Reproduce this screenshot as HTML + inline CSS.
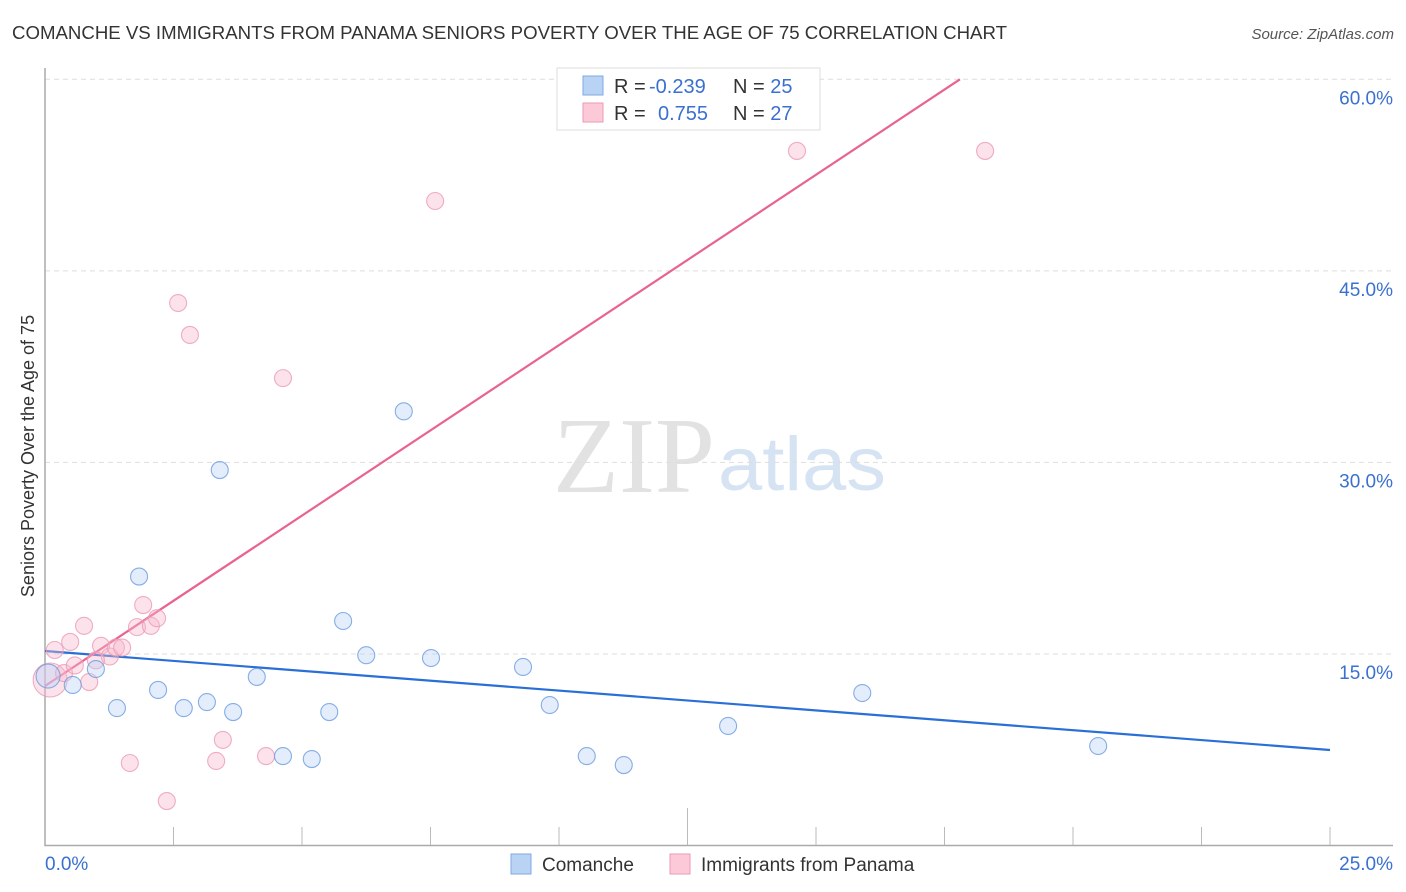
<!DOCTYPE html>
<html><head><meta charset="utf-8"><style>
body{margin:0;background:#fff;font-family:"Liberation Sans",sans-serif;}
svg{display:block}
</style></head><body>
<svg id="chart" width="1406" height="892" xmlns="http://www.w3.org/2000/svg">
<text x="12" y="39" font-size="18" fill="#333" textLength="995" lengthAdjust="spacingAndGlyphs">COMANCHE VS IMMIGRANTS FROM PANAMA SENIORS POVERTY OVER THE AGE OF 75 CORRELATION CHART</text>
<text x="1394" y="39" font-size="15" fill="#555" font-style="italic" text-anchor="end">Source: ZipAtlas.com</text>
<g>
<text x="553" y="492" font-size="108" fill="#e2e2e2" font-family="Liberation Serif,serif" textLength="162" lengthAdjust="spacingAndGlyphs">ZIP</text>
<text x="718" y="490" font-size="76" fill="#d6e3f3" textLength="168" lengthAdjust="spacingAndGlyphs">atlas</text>
</g>
<g id="grid"></g>
<g id="axes"></g>
<g id="trend"></g>
<g id="pts"></g>
<text transform="translate(34,456) rotate(-90)" font-size="18" fill="#333" text-anchor="middle">Seniors Poverty Over the Age of 75</text>
<g>
<rect x="557" y="68" width="263" height="62" fill="#fff" stroke="#ddd"/>
<rect x="583" y="76" width="20" height="19" fill="#b9d3f5" stroke="#7fa8e0"/>
<rect x="583" y="103" width="20" height="19" fill="#fcc9d8" stroke="#ec9ab4"/>
<text x="614" y="93" font-size="20" fill="#333">R = <tspan x="649" fill="#3a70d0">-0.239</tspan><tspan x="733">N = </tspan><tspan fill="#3a70d0">25</tspan></text>
<text x="614" y="120" font-size="20" fill="#333">R = <tspan x="658" fill="#3a70d0">0.755</tspan><tspan x="733">N = </tspan><tspan fill="#3a70d0">27</tspan></text>
</g>
<g>
<rect x="511" y="854" width="20" height="20" fill="#b9d3f5" stroke="#7fa8e0"/>
<text x="542" y="871" font-size="19" fill="#333">Comanche</text>
<rect x="670" y="854" width="20" height="20" fill="#fcc9d8" stroke="#ec9ab4"/>
<text x="701" y="871" font-size="19" fill="#333">Immigrants from Panama</text>
</g>
</svg>
<script>
const xTicks=[0,2.5,5,7.5,10,12.5,15,17.5,20,22.5,25];
const yTicks=[15,30,45,60];
const yTickLabels=["15.0%","30.0%","45.0%","60.0%"];
const xEndLabels=["0.0%","25.0%"];
const blueX=[0.06,0.54,0.99,1.4,1.83,2.2,2.7,3.15,3.4,3.66,4.12,4.63,5.19,5.53,5.8,6.25,6.98,7.51,9.3,9.82,10.54,11.26,13.29,15.9,20.49];
const blueY=[13.27,12.57,13.82,10.76,21.06,12.18,10.76,11.23,29.4,10.45,13.2,7.0,6.77,10.45,17.58,14.9,34.0,14.68,13.98,11.0,7.0,6.3,9.36,11.94,7.79];
const pinkX=[0.1,0.19,0.37,0.49,0.76,0.86,0.58,1.09,1.26,1.38,1.5,1.65,1.79,1.91,2.06,2.18,2.37,2.59,2.82,3.33,3.46,4.3,4.63,7.59,14.63,18.29,0.99];
const pinkY=[12.96,15.31,13.5,15.94,17.2,12.8,14.1,15.64,14.8,15.5,15.5,6.46,17.1,18.83,17.2,17.8,3.48,42.48,39.98,6.62,8.27,7.0,36.6,50.47,54.39,54.39,14.5];
const blueTrend=[15.23,7.48];   // y at x=0, x=25
const pinkTrend=[12.49,2.669];  // intercept, slope
const NS="http://www.w3.org/2000/svg";
const X=v=>45+v*51.4, Y=v=>845.5-v*12.77;
function mk(p,t,a){const e=document.createElementNS(NS,t);for(const k in a)e.setAttribute(k,a[k]);document.getElementById(p).appendChild(e);return e;}
yTicks.forEach((t,i)=>{
 const l=mk('grid','line',{x1:45,x2:1393,y1:Y(t),y2:Y(t),stroke:'#ddd','stroke-dasharray':'5,4'});
 
 
 const tx=mk('grid','text',{x:1393,y:Y(t)+25,'font-size':19,fill:'#3a70d0','text-anchor':'end'});
 tx.textContent=yTickLabels[i];
 
 
});
const ax=mk('axes','path',{d:'M45,68V845.5H1393',stroke:'#aaa',fill:'none','stroke-width':1.5});


xTicks.slice(1).forEach(t=>{
 const l=mk('axes','line',{x1:X(t),x2:X(t),y1:t===12.5?808:827,y2:845,stroke:'#bbb'});
 
 
});
[[0,'start',45],[25,'end',1393]].forEach((a,i)=>{
 const tx=mk('axes','text',{x:a[2],y:870,'font-size':19,fill:'#3a70d0','text-anchor':a[1]});
 tx.textContent=xEndLabels[i];
 
 
});
const bt=mk('trend','line',{x1:X(0),y1:Y(blueTrend[0]),x2:X(25),y2:Y(blueTrend[1]),stroke:'#2a6fd6','stroke-width':2.2});


const pEnd=(60-pinkTrend[0])/pinkTrend[1];
const pt=mk('trend','line',{x1:X(0),y1:Y(pinkTrend[0]),x2:X(pEnd),y2:Y(60),stroke:'#e8638f','stroke-width':2.2});


function dots(xs,ys,fill,stroke,name,big){
 xs.forEach((x,i)=>{
  const r=i===0?big:8.5;
  const c=mk('pts','circle',{cx:X(x),cy:Y(ys[i]),r:r,fill:fill,'fill-opacity':0.4,stroke:stroke,'stroke-opacity':0.8,'stroke-width':1.1});
  
  
 });
}
dots(pinkX,pinkY,'#f8b9cc','#ec9ab4','panama-point',17);
dots(blueX,blueY,'#b9d3f5','#6a9be0','comanche-point',12);
</script>
</body></html>
